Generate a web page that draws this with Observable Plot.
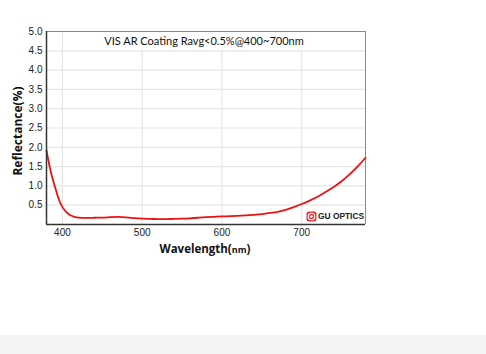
<!DOCTYPE html>
<html>
<head>
<meta charset="utf-8">
<script src="https://cdn.jsdelivr.net/npm/d3@7"></script>
<script src="https://cdn.jsdelivr.net/npm/@observablehq/plot@0.6"></script>
<style>
  html, body { margin: 0; padding: 0; background: #fff; }
  #wrap { position: relative; width: 486px; height: 354px; overflow: hidden; }
  #title { position: absolute; left: 104px; top: 32px; width: 200px; height: 18px; line-height: 18px; white-space: nowrap;
    background: #fff; text-align: center; font-family: Lato, "Open Sans", sans-serif; font-size: 11px; color: #111; }
  #xlabel { position: absolute; left: 105px; width: 200px; top: 241px; text-align: center; white-space: nowrap;
    font-family: "Open Sans", sans-serif; font-weight: bold; font-size: 11.5px; color: #111; }
  #xlabel span { font-size: 9px; }
  #logo { position: absolute; left: 306px; top: 210px; height: 12px; display: flex; align-items: center; white-space: nowrap;
    font-family: "Liberation Sans", Arial, sans-serif; font-weight: bold; font-size: 8.4px; color: #222; }
  #logo svg { margin-right: 1px; }
  #band { position: absolute; left: 0; top: 335px; width: 486px; height: 19px; background: #f4f4f4; }
</style>
</head>
<body>
<div id="wrap">
  <div id="chart"></div>
  <div id="title">VIS AR Coating Ravg&lt;0.5%@400~700nm</div>
  <div id="xlabel">Wavelength(<span>nm</span>)</div>
  <div id="logo"><svg width="11" height="11" viewBox="0 0 11 11"><rect x="0.5" y="0.5" width="10" height="10" rx="2" fill="#e8343a"/><circle cx="5.5" cy="5.5" r="3.3" fill="none" stroke="#fff" stroke-width="1.1"/><circle cx="5.5" cy="5.5" r="1.3" fill="#fff"/></svg>GU OPTICS</div>
  <div id="band"></div>
</div>
<script>
const wavelength = [380,385,390,395,400,405,410,415,420,430,440,450,460,470,480,490,500,510,520,530,540,550,560,570,580,590,600,610,620,630,640,650,660,670,680,690,700,710,720,730,740,750,760,770,780];
const reflectance = [1.92,1.40,1.02,0.68,0.45,0.32,0.24,0.20,0.18,0.17,0.175,0.18,0.19,0.195,0.185,0.165,0.15,0.145,0.14,0.14,0.145,0.15,0.16,0.175,0.19,0.20,0.21,0.215,0.225,0.235,0.25,0.27,0.30,0.33,0.38,0.45,0.53,0.62,0.72,0.84,0.97,1.12,1.30,1.50,1.73];
const xDomain = [380, 780];
const yDomain = [0, 5];
const xTicks = [400, 500, 600, 700];
const yTicks = [0.5, 1.0, 1.5, 2.0, 2.5, 3.0, 3.5, 4.0, 4.5, 5.0];
const yLabel = "Reflectance(%)";

const data = wavelength.map((w, i) => ({w, r: reflectance[i]}));

const chart = Plot.plot({
  width: 486,
  height: 335,
  marginLeft: 46,
  marginRight: 121,
  marginTop: 31,
  marginBottom: 111,
  style: {fontFamily: "'Liberation Sans', Arial, sans-serif", fontSize: "10px", color: "#333", background: "transparent"},
  x: {domain: xDomain},
  y: {domain: yDomain},
  marks: [
    Plot.gridX(xTicks, {stroke: "#e6e6e6", strokeOpacity: 1, strokeWidth: 1.2}),
    Plot.gridY(yTicks, {stroke: "#e6e6e6", strokeOpacity: 1, strokeWidth: 1.2}),
    Plot.ruleY([yDomain[1]], {stroke: "#8a8a8a", strokeWidth: 1.2}),
    Plot.ruleX([xDomain[1]], {stroke: "#8a8a8a", strokeWidth: 1}),
    Plot.line(data, {x: "w", y: "r", stroke: "#f01010", strokeWidth: 1.8, curve: "natural"}),
    Plot.ruleX([xDomain[0]], {stroke: "#333", strokeWidth: 1.5}),
    Plot.ruleY([yDomain[0]], {stroke: "#333", strokeWidth: 1.5}),
    Plot.axisX(xTicks, {tickSize: 0, tickPadding: 4, label: null, fontSize: 10, fill: "#222"}),
    Plot.axisY(yTicks, {tickSize: 0, tickPadding: 4, label: null, fontSize: 10, fill: "#222", tickFormat: d3.format(".1f")}),
    Plot.text([yLabel], {frameAnchor: "left", textAnchor: "middle", rotate: -90, dx: -28, dy: 3, fontWeight: "bold", fontSize: 12, fontFamily: "'Open Sans', sans-serif", fill: "#111"})
  ]
});
document.getElementById("chart").appendChild(chart);
</script>
</body>
</html>
